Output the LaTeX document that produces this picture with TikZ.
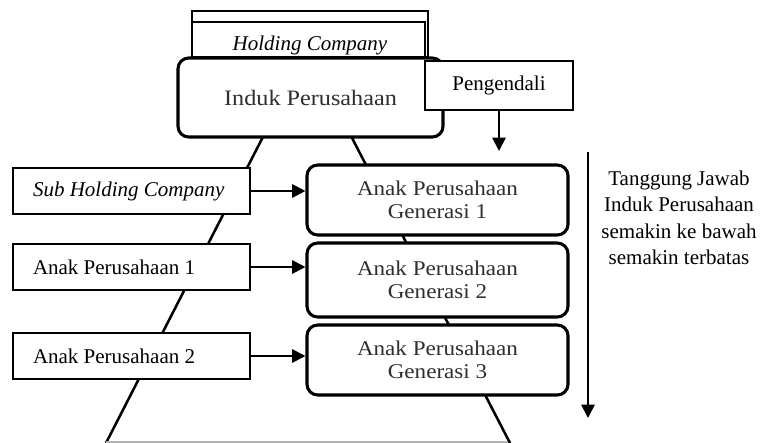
\documentclass[tikz,border=0pt]{standalone}
\usepackage{fontspec}
\setmainfont{Liberation Serif}
\usetikzlibrary{arrows.meta}
\newcommand{\widetxt}[1]{\scalebox{1.1}[1]{#1}}
\begin{document}
\begin{tikzpicture}[x=0.75pt,y=-0.75pt,
  every node/.style={font=\fontsize{15.75}{19.9}\selectfont},
  plainbox/.style={draw,line width=1.2pt,fill=white,inner sep=0pt},
  leftbox/.style={plainbox,minimum height=46*0.75pt,text width=197*0.75pt,inner xsep=20*0.75pt,align=flush left},
  roundbox/.style={draw,line width=2.3pt,fill=white,rounded corners=8pt,inner sep=0pt,text=black!82,align=center,font=\fontsize{15.75}{17}\selectfont},
  arr/.style={line width=1.4pt,-{Triangle[length=10pt,width=10pt]}},
  pyr/.style={line width=1.9pt}]
\useasboundingbox (0,0) rectangle (761,443);

% pyramid
\coordinate (apex) at (307,51);
\coordinate (bl) at (106,443);
\coordinate (br) at (510,443);
\draw[pyr] (bl) -- (apex) -- (br);
\coordinate (gl) at (106,442);
\coordinate (gr) at (508,442);
\draw[line width=1.2pt,black!30] (gl) -- (gr);

% holding company
\node[plainbox,minimum width=236*0.75pt,minimum height=46*0.75pt] (hout) at (310,34) {};
\node[plainbox,minimum width=233*0.75pt,minimum height=35*0.75pt] (hin) at (308.5,39.5) {};
\node (hc) at (310,45) {\itshape Holding Company};

% induk
\node[roundbox,minimum width=265*0.75pt,minimum height=79*0.75pt,font=\fontsize{16.5}{17}\selectfont] (induk) at (310.5,97.5) {\widetxt{Induk Perusahaan}};

% pengendali
\node[plainbox,minimum width=148*0.75pt,minimum height=49*0.75pt] (peng) at (499,85.5) {Pengendali};
\coordinate (pengend) at (499,151);
\draw[arr] (peng.south) -- (pengend);

% generations
\node[roundbox,minimum width=261*0.75pt,minimum height=70*0.75pt] (gen1) at (437.5,200) {\widetxt{Anak Perusahaan}\\\widetxt{Generasi 1}};
\node[roundbox,minimum width=261*0.75pt,minimum height=74*0.75pt] (gen2) at (437.5,280) {\widetxt{Anak Perusahaan}\\\widetxt{Generasi 2}};
\node[roundbox,minimum width=261*0.75pt,minimum height=70*0.75pt] (gen3) at (437.5,360) {\widetxt{Anak Perusahaan}\\\widetxt{Generasi 3}};

% left boxes
\node[leftbox] (sub) at (131.5,191) {\itshape Sub Holding Company};
\node[leftbox] (ap1) at (131.5,267) {Anak Perusahaan 1};
\node[leftbox] (ap2) at (131.5,356) {Anak Perusahaan 2};

\draw[arr] (sub.east) -- (sub.east -| gen1.west);
\draw[arr] (ap1.east) -- (ap1.east -| gen2.west);
\draw[arr] (ap2.east) -- (ap2.east -| gen3.west);

% responsibility arrow
\coordinate (ra1) at (588,152);
\coordinate (ra2) at (588,418);
\draw[arr] (ra1) -- (ra2);
\node[align=center] (resp) at (679,218) {Tanggung Jawab\\Induk Perusahaan\\semakin ke bawah\\semakin terbatas};
\end{tikzpicture}
\end{document}
